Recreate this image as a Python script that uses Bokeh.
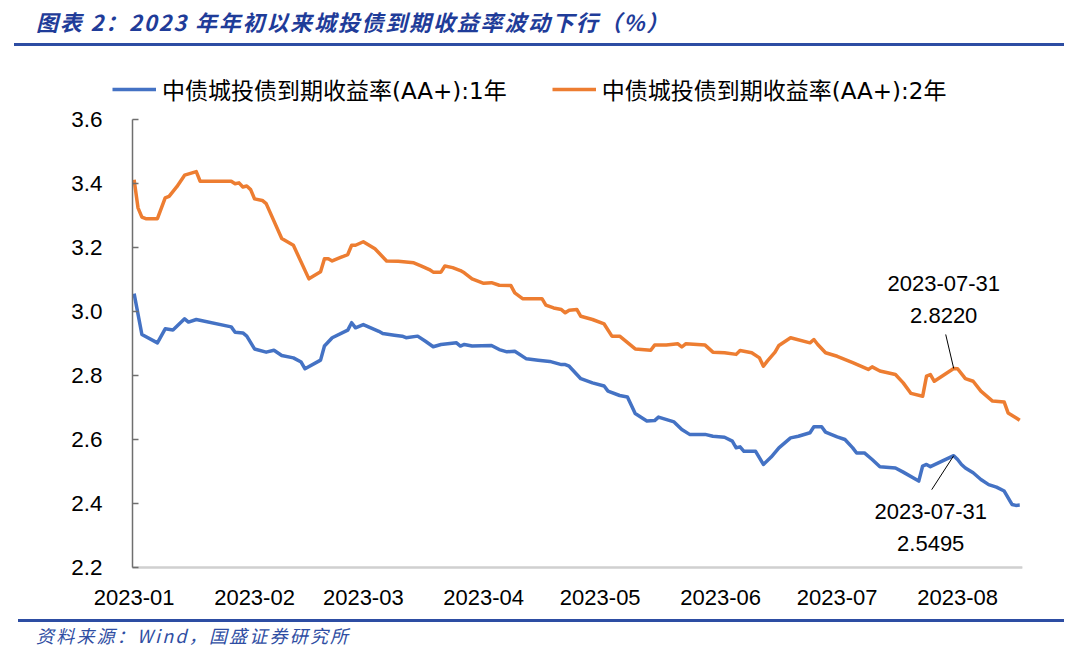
import pandas as pd
from datetime import datetime
from bokeh.plotting import figure
from bokeh.layouts import column
from bokeh.models import (Range1d, ColumnDataSource, Label, Legend, LegendItem, Div,
                          MonthsTicker, DatetimeTickFormatter, FixedTicker, NumeralTickFormatter)
from bokeh.embed import file_html
from bokeh.resources import INLINE

# ---------------- data ----------------
dates_2y = ["2023-01-01","2023-01-02","2023-01-03","2023-01-04","2023-01-07","2023-01-09","2023-01-10","2023-01-12","2023-01-14","2023-01-17","2023-01-18","2023-01-26","2023-01-27","2023-01-28","2023-01-29","2023-01-30","2023-01-31",
            "2023-02-01","2023-02-03","2023-02-04","2023-02-08","2023-02-11","2023-02-15","2023-02-18","2023-02-19","2023-02-20","2023-02-21","2023-02-23","2023-02-25","2023-02-26","2023-02-27",
            "2023-03-01","2023-03-04","2023-03-07","2023-03-10","2023-03-14","2023-03-16","2023-03-18","2023-03-19","2023-03-21","2023-03-22","2023-03-24","2023-03-26","2023-03-27","2023-03-29",
            "2023-04-01","2023-04-03","2023-04-05","2023-04-08","2023-04-09","2023-04-11","2023-04-16","2023-04-17","2023-04-19","2023-04-21","2023-04-22","2023-04-23","2023-04-25","2023-04-26","2023-04-29",
            "2023-05-02","2023-05-04","2023-05-06","2023-05-10","2023-05-14","2023-05-15","2023-05-18","2023-05-21","2023-05-22","2023-05-23","2023-05-28","2023-05-30",
            "2023-06-02","2023-06-05","2023-06-06","2023-06-09","2023-06-11","2023-06-12","2023-06-13","2023-06-15","2023-06-16","2023-06-19","2023-06-24","2023-06-25","2023-06-26","2023-06-28",
            "2023-07-01","2023-07-05","2023-07-09","2023-07-10","2023-07-12","2023-07-16","2023-07-18","2023-07-20","2023-07-23","2023-07-24","2023-07-25","2023-07-26","2023-07-31",
            "2023-08-01","2023-08-03","2023-08-05","2023-08-07","2023-08-10","2023-08-13","2023-08-14","2023-08-16","2023-08-17"]
yield_2y = [3.412,3.324,3.295,3.29,3.29,3.355,3.36,3.39,3.426,3.437,3.407,3.407,3.399,3.402,3.389,3.392,3.381,
            3.352,3.347,3.337,3.228,3.207,3.102,3.124,3.165,3.165,3.158,3.168,3.178,3.207,3.207,
            3.218,3.196,3.158,3.157,3.152,3.142,3.131,3.123,3.123,3.142,3.137,3.128,3.121,3.102,
            3.088,3.09,3.082,3.081,3.058,3.04,3.04,3.02,3.011,3.006,2.996,3.004,3.006,2.985,2.975,
            2.961,2.923,2.923,2.883,2.879,2.895,2.895,2.899,2.889,2.899,2.895,2.873,
            2.871,2.866,2.878,2.871,2.855,2.829,2.845,2.873,2.894,2.918,2.902,2.9125,2.897,2.871,
            2.86,2.84,2.819,2.827,2.814,2.803,2.777,2.744,2.735,2.798,2.803,2.782,2.822,
            2.821,2.79,2.782,2.751,2.72,2.717,2.683,2.668,2.66]

dates_1y = ["2023-01-01","2023-01-03","2023-01-07","2023-01-09","2023-01-11","2023-01-14","2023-01-15","2023-01-17","2023-01-26","2023-01-27","2023-01-29","2023-01-30",
            "2023-02-01","2023-02-04","2023-02-06","2023-02-08","2023-02-11","2023-02-13","2023-02-14","2023-02-18","2023-02-19","2023-02-21","2023-02-25","2023-02-26","2023-02-27",
            "2023-03-01","2023-03-05","2023-03-06","2023-03-09","2023-03-11","2023-03-12","2023-03-15","2023-03-17","2023-03-19","2023-03-21","2023-03-25","2023-03-26","2023-03-27","2023-03-29",
            "2023-04-03","2023-04-05","2023-04-07","2023-04-09","2023-04-12","2023-04-15","2023-04-18","2023-04-21","2023-04-22","2023-04-23","2023-04-26","2023-04-29",
            "2023-05-02","2023-05-03","2023-05-06","2023-05-08","2023-05-10","2023-05-13","2023-05-15","2023-05-16","2023-05-20","2023-05-22","2023-05-24","2023-05-28","2023-05-30",
            "2023-06-02","2023-06-04","2023-06-05","2023-06-06","2023-06-07","2023-06-10","2023-06-12","2023-06-14","2023-06-16","2023-06-19","2023-06-21","2023-06-24","2023-06-25","2023-06-27","2023-06-28",
            "2023-07-01","2023-07-03","2023-07-05","2023-07-06","2023-07-08","2023-07-10","2023-07-12","2023-07-16","2023-07-18","2023-07-22","2023-07-23","2023-07-24","2023-07-25","2023-07-31",
            "2023-08-01","2023-08-02","2023-08-03","2023-08-05","2023-08-07","2023-08-09","2023-08-11","2023-08-13","2023-08-15","2023-08-16","2023-08-17"]
yield_1y = [3.056,2.928,2.902,2.946,2.942,2.977,2.967,2.975,2.952,2.935,2.933,2.923,
            2.883,2.873,2.879,2.8625,2.855,2.842,2.821,2.848,2.892,2.918,2.942,2.965,2.949,
            2.959,2.938,2.931,2.926,2.923,2.918,2.923,2.907,2.89,2.897,2.902,2.892,2.897,2.892,
            2.894,2.881,2.874,2.876,2.852,2.848,2.844,2.834,2.834,2.829,2.79,2.777,
            2.767,2.751,2.7375,2.733,2.681,2.658,2.659,2.67,2.655,2.631,2.616,2.616,2.61,
            2.607,2.595,2.574,2.577,2.563,2.563,2.522,2.545,2.574,2.605,2.61,2.621,2.64,2.64,2.623,
            2.608,2.6,2.574,2.558,2.558,2.5375,2.515,2.511,2.498,2.47,2.517,2.522,2.515,2.5495,
            2.5375,2.522,2.511,2.496,2.475,2.459,2.451,2.439,2.397,2.394,2.395]

y_ticks = [2.2, 2.4, 2.6, 2.8, 3.0, 3.2, 3.4, 3.6]
label_1y = "中债城投债到期收益率(AA+):1年"
label_2y = "中债城投债到期收益率(AA+):2年"
ann_date = "2023-07-31"
ann_1y = 2.5495
ann_2y = 2.8220
title_text = "图表 2：2023 年年初以来城投债到期收益率波动下行（%）"
source_text = "资料来源：Wind，国盛证券研究所"

# ---------------- styling ----------------
BLUE = "#4472C4"
ORANGE = "#ED7D31"
RULE = "#2D4DA3"
NUM_FONT = "Liberation Sans"
CJK_FONT = "Noto Sans CJK SC"
LEG_FONT = "DejaVu Sans, Noto Sans CJK SC"
W = 1064
LINE_W = 3.5

Y_MIN, Y_MAX = 2.2, 3.6
X0 = datetime(2022, 12, 31, 14)      # where the y axis sits
X1 = datetime(2023, 8, 17, 17)       # right end of the plotting area

# geometry of the chart figure (canvas pixels)
FIG_H = 567
FRAME_L, FRAME_R = 60, 1022
FRAME_T, FRAME_B = 15, 567
AXIS_X = 132                          # x pixel of the y axis
AXIS_TOP, AXIS_BOT = 71, 519          # y pixels of Y_MAX and Y_MIN

px_day = (FRAME_R - AXIS_X) / ((X1 - X0).total_seconds() / 86400)
px_val = (AXIS_BOT - AXIS_TOP) / (Y_MAX - Y_MIN)
x_start = pd.Timestamp(X0) - pd.Timedelta(days=(AXIS_X - FRAME_L) / px_day)
y_top = Y_MIN + (AXIS_BOT - FRAME_T) / px_val
y_bot = Y_MIN - (FRAME_B - AXIS_BOT) / px_val

# ---- title ----
title_div = Div(width=W, height=48, margin=0, text=(
    '<div style="position:relative;width:%dpx;height:48px;">'
    '<div style="position:absolute;left:36px;top:7px;height:28px;line-height:28px;'
    'font-family:\'%s\';font-weight:bold;font-style:italic;font-size:22px;letter-spacing:1.8px;'
    'color:#1F3C99;white-space:nowrap;">%s</div>'
    '<div style="position:absolute;left:14px;top:43px;width:1050px;height:3px;background:%s;"></div>'
    '</div>') % (W, CJK_FONT, title_text, RULE))

# ---- chart ----
p = figure(width=W, height=FIG_H, x_axis_type="datetime", output_backend="svg",
           toolbar_location=None, title=None, margin=0,
           x_range=Range1d(x_start, X1), y_range=Range1d(y_bot, y_top),
           min_border_left=FRAME_L, min_border_right=W - FRAME_R,
           min_border_top=FRAME_T, min_border_bottom=FIG_H - FRAME_B)
p.grid.visible = False
p.outline_line_color = None

# baseline of the category axis (light grey rule at the lowest value)
p.segment(x0=[pd.Timestamp(X0)], y0=[Y_MIN], x1=[pd.Timestamp(X1)], y1=[Y_MIN],
          line_color="#d0d0d0", line_width=2)

src1 = ColumnDataSource(dict(x=pd.to_datetime(dates_1y), y=yield_1y))
src2 = ColumnDataSource(dict(x=pd.to_datetime(dates_2y), y=yield_2y))
r1 = p.line("x", "y", source=src1, line_color=BLUE, line_width=LINE_W, line_join="round")
r2 = p.line("x", "y", source=src2, line_color=ORANGE, line_width=LINE_W, line_join="round")

x0_ms = pd.Timestamp(X0).value / 1e6
x1_ms = pd.Timestamp(X1).value / 1e6

# y axis, drawn at the start date
p.yaxis.fixed_location = x0_ms
p.yaxis.bounds = (Y_MIN, Y_MAX)
p.yaxis.ticker = FixedTicker(ticks=y_ticks)
p.yaxis.formatter = NumeralTickFormatter(format="0.0")
p.yaxis.axis_line_color = "#6f6f6f"
p.yaxis.axis_line_width = 1.5
p.yaxis.major_tick_line_color = "#6f6f6f"
p.yaxis.major_tick_line_width = 1.5
p.yaxis.major_tick_in = 6
p.yaxis.major_tick_out = 0
p.yaxis.minor_tick_line_color = None
p.yaxis.major_label_text_font = NUM_FONT
p.yaxis.major_label_text_font_size = "22.5px"
p.yaxis.major_label_text_color = "black"
p.yaxis.major_label_standoff = 30

# x axis, drawn at the lowest value
p.xaxis.fixed_location = Y_MIN
p.xaxis.bounds = (x0_ms, x1_ms)
p.xaxis.ticker = MonthsTicker(months=list(range(1, 13)))
p.xaxis.formatter = DatetimeTickFormatter(months="%Y-%m", days="%Y-%m")
p.xaxis.axis_line_color = "#d0d0d0"
p.xaxis.axis_line_width = 2
p.xaxis.major_tick_line_color = None
p.xaxis.minor_tick_line_color = None
p.xaxis.major_tick_in = 0
p.xaxis.major_tick_out = 0
p.xaxis.major_label_text_font = NUM_FONT
p.xaxis.major_label_text_font_size = "22px"
p.xaxis.major_label_text_color = "black"
p.xaxis.major_label_standoff = 22

# legend (inside the frame, above the data area)
legend = Legend(items=[LegendItem(label=label_1y, renderers=[r1]),
                       LegendItem(label=label_2y, renderers=[r2])],
                orientation="horizontal", location=(52, 461 + (FRAME_B - AXIS_BOT)),
                glyph_width=44, glyph_height=24, label_height=24, label_standoff=6, spacing=45,
                padding=0, margin=0,
                label_text_font=LEG_FONT, label_text_font_size="23px", label_text_color="black",
                border_line_color=None, background_fill_alpha=0)
p.add_layout(legend)

# annotations with leader lines
ad = pd.Timestamp(ann_date)
def shift(dx_px):
    return ad + pd.Timedelta(days=dx_px / px_day)

p.segment(x0=[shift(-8), shift(-22)], y0=[ann_2y + 34 / px_val, ann_1y - 34 / px_val],
          x1=[ad, ad], y1=[ann_2y, ann_1y], line_color="black", line_width=1)

for txt, yv, dx, dy in [(ann_date, ann_2y, -10, 85), ("%.4f" % ann_2y, ann_2y, -10, 53),
                        (ann_date, ann_1y, -23, -56), ("%.4f" % ann_1y, ann_1y, -23, -88)]:
    p.add_layout(Label(x=ad, y=yv, x_offset=dx, y_offset=dy, text=txt, text_align="center",
                       text_baseline="middle", text_font=NUM_FONT, text_font_size="22px",
                       text_color="black"))

# ---- source ----
source_div = Div(width=W, height=34, margin=0, text=(
    '<div style="position:relative;width:%dpx;height:34px;">'
    '<div style="position:absolute;left:18px;top:4px;width:1046px;height:2.5px;background:%s;"></div>'
    '<div style="position:absolute;left:36px;top:8px;height:24px;line-height:24px;'
    'font-family:\'%s\';font-style:italic;font-size:18px;letter-spacing:2.2px;color:#2F4EA3;'
    'white-space:nowrap;">%s</div>'
    '</div>') % (W, RULE, CJK_FONT, source_text))

layout = column(title_div, p, source_div, spacing=0)
open("out.html", "w").write(file_html(layout, INLINE))
